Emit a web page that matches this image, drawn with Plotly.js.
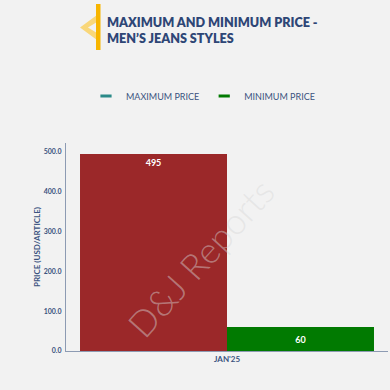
<!DOCTYPE html>
<html><head><meta charset="utf-8">
<script src="https://cdn.plot.ly/plotly-3.0.1.min.js"></script>
<style>html,body{margin:0;padding:0;background:#f2f2f2;}#c{width:390px;height:390px;}</style>
</head><body><div id="c"></div>
<script>
const categories = ["JAN'25"];
const maxPrice = [495];
const minPrice = [60];
const seriesNames = ["MAXIMUM PRICE", "MINIMUM PRICE"];

const W = 390, H = 390, L = 66, R = 2, T = 143, B = 39;
const pw = W - L - R, ph = H - T - B;
const px = x => (x - L) / pw;
const py = y => (H - B - y) / ph;
function path(pts){ return 'M' + pts.map(p => px(p[0]).toFixed(4) + ',' + py(p[1]).toFixed(4)).join(' L') + ' Z'; }

const FF = 'Lato, "Noto Sans", sans-serif';
const labelFont = {family: FF, size: 9, color: '#ffffff', weight: 700};
const traces = [
  {type:'bar', x:categories, y:maxPrice, name:seriesNames[0], showlegend:false,
   marker:{color:'#9b2829'}, text:maxPrice.map(String), textposition:'inside', insidetextanchor:'end',
   textfont:labelFont, hoverinfo:'skip'},
  {type:'bar', x:categories, y:minPrice, name:seriesNames[1], showlegend:false,
   marker:{color:'#017a01'}, text:minPrice.map(String), textposition:'inside', insidetextanchor:'middle',
   textfont:labelFont, hoverinfo:'skip'},
  {type:'scatter', mode:'markers', x:[null], y:[null], name:seriesNames[0],
   marker:{symbol:'line-ew', size:8, line:{color:'#2b8a88', width:3}}, showlegend:true},
  {type:'scatter', mode:'markers', x:[null], y:[null], name:seriesNames[1],
   marker:{symbol:'line-ew', size:8, line:{color:'#017a01', width:3}}, showlegend:true}
];

const tickFont = {family:FF, size:7, color:'#3b5380', weight:700};
const layout = {
  width:W, height:H, margin:{l:L, r:R, t:T, b:B},
  paper_bgcolor:'#f2f2f2', plot_bgcolor:'rgba(0,0,0,0)',
  barmode:'group', bargap:0.087, bargroupgap:0,
  legend:{orientation:'h', x:px(203), xanchor:'center', y:py(96), yanchor:'middle',
          font:{family:FF, size:9, color:'#3b5380'}, bgcolor:'rgba(0,0,0,0)',
          itemwidth:30, traceorder:'normal'},
  xaxis:{type:'category', showline:true, linecolor:'#8d9bb3', linewidth:1, ticks:'', showgrid:false,
         tickfont:{family:FF, size:8, color:'#3b5380', weight:700}, fixedrange:true},
  yaxis:{range:[0,522.6], showline:true, linecolor:'#8d9bb3', linewidth:1, showgrid:false, zeroline:false,
         tickvals:[0,100,200,300,400,500], tickformat:'.1f', ticks:'', tickfont:tickFont, ticklabelstandoff:2,
         title:{text:'PRICE (USD/ARTICLE)', standoff:1, font:{family:FF, size:8, color:'#3b5380', weight:700}}},
  shapes:[
    {type:'path', xref:'paper', yref:'paper', path:path([[97,15],[80,27.5],[97,40],[97,33],[88,27.5],[97,22]]),
     fillcolor:'#f9d77a', line:{width:0}, layer:'above'},
    {type:'rect', xref:'paper', yref:'paper', x0:px(96), x1:px(100.5), y0:py(4), y1:py(50),
     fillcolor:'#f7b500', line:{width:0}, layer:'above'}
  ],
  annotations:[
    {text:'MAXIMUM AND MINIMUM PRICE -<br>MEN\u2019S JEANS STYLES', xref:'paper', yref:'paper',
     x:px(105), xanchor:'left', y:py(30.5), yanchor:'middle', align:'left', showarrow:false,
     font:{family:FF, size:12.6, color:'#2e4676', weight:800}},
    {text:'D&J Reports', xref:'paper', yref:'paper', x:px(200), y:py(258), showarrow:false, textangle:-48,
     font:{family:FF, size:36, color:'rgba(215,215,215,0.45)', weight:300}}
  ]
};
Plotly.newPlot('c', traces, layout, {displayModeBar:false, staticPlot:true});
</script></body></html>
